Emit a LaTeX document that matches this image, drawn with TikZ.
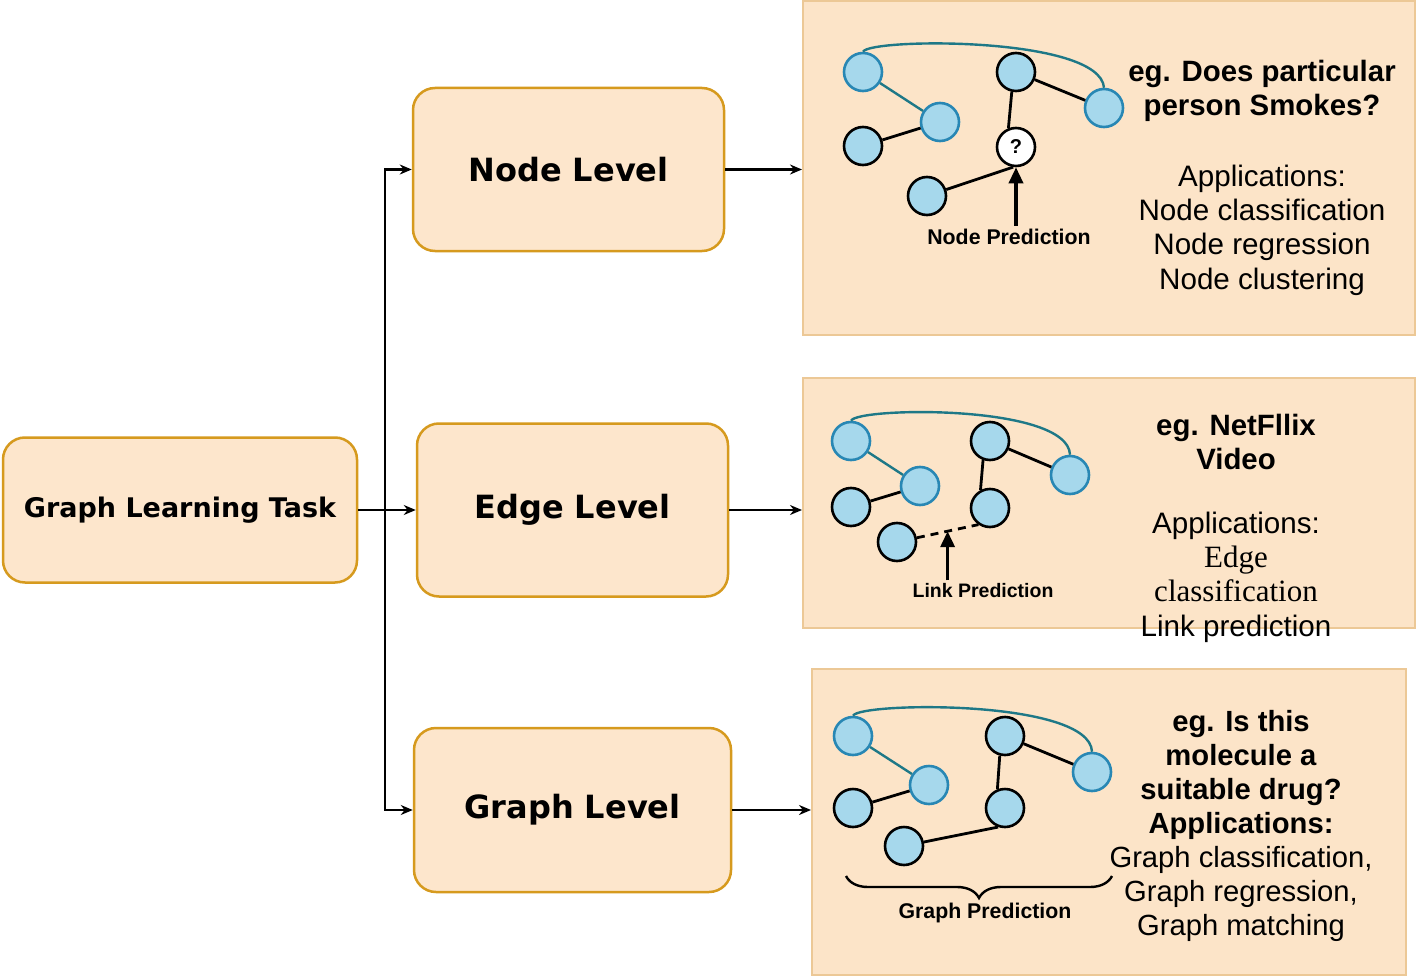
\documentclass[tikz,border=0pt]{standalone}
\usepackage{fontspec}
\setmainfont{Liberation Sans}
\newfontfamily\verd{DejaVu Sans}
\newfontfamily\timesf{Liberation Serif}
\usetikzlibrary{arrows.meta,decorations.pathreplacing,calc}
\definecolor{boxfill}{RGB}{253,230,204}
\definecolor{boxline}{RGB}{214,154,30}
\definecolor{panelfill}{RGB}{252,228,200}
\definecolor{panelline}{RGB}{236,200,150}
\definecolor{gfill}{RGB}{166,216,236}
\definecolor{gblue}{RGB}{40,135,180}
\definecolor{gteal}{RGB}{30,120,135}
\begin{document}
\begin{tikzpicture}[x=1pt,y=-1pt,
  levelbox/.style={draw=boxline, fill=boxfill, line width=2.5pt, rounded corners=22pt,
    font=\verd\bfseries\fontsize{32}{38}\selectfont},
  panel/.style={draw=panelline, fill=panelfill, line width=2pt, inner sep=0pt},
  conn/.style={line width=2.2pt, -{Stealth[length=12pt,width=10pt]}},
  gn/.style={circle, draw=black, fill=gfill, line width=2.6pt, minimum size=38pt, inner sep=0pt},
  gb/.style={gn, draw=gblue},
  tedge/.style={draw=gteal, line width=2.4pt},
  bedge/.style={draw=black, line width=2.8pt},
  predarrow/.style={line width=3.5pt, -{Triangle[length=16pt,width=14pt]}},
  predlabel/.style={font=\bfseries\fontsize{21.3}{24}\selectfont},
  boldtext/.style={align=center, font=\bfseries\fontsize{29.4}{34}\selectfont},
  regtext/.style={align=center, font=\fontsize{29.6}{34.4}\selectfont}
]
\useasboundingbox (0,0) rectangle (1416,979);
\fill[white] (0,0) rectangle (1416,979);

% panels
\node[panel, minimum width=612pt, minimum height=334pt] (p1) at (1109,168) {};
\node[panel, minimum width=612pt, minimum height=250pt] (p2) at (1109,503) {};
\node[panel, minimum width=594pt, minimum height=306pt] (p3) at (1109,822) {};

% level boxes
\node[levelbox, minimum width=354pt, minimum height=145pt,
  font=\verd\bfseries\fontsize{27}{30}\selectfont] (glt) at (180,510) {Graph Learning Task};
\node[levelbox, minimum width=311pt, minimum height=163pt] (nl) at (568.5,169.5) {Node Level};
\node[levelbox, minimum width=311pt, minimum height=173pt] (el) at (572.5,510) {Edge Level};
\node[levelbox, minimum width=317pt, minimum height=164pt] (gl) at (572.5,810) {Graph Level};

% connectors
\coordinate (j) at (385,510);
\draw[conn] (glt.east) -- (el.west);
\draw[conn] (j) |- (nl.west);
\draw[conn] (j) |- (gl.west);
\draw[conn] (nl.east) -- (nl.east -| p1.west);
\draw[conn] (el.east) -- (el.east -| p2.west);
\draw[conn] (gl.east) -- (gl.east -| p3.west);

% graph 1
\node[gb] (a1) at (863,72) {};
\node[gb] (b1) at (940,122) {};
\node[gn] (c1) at (863,146) {};
\node[gn] (d1) at (1016,72) {};
\node[gb] (e1) at (1104,108) {};
\node[gn, fill=white, font=\bfseries\fontsize{20}{22}\selectfont] (q1) at (1016,147) {?};
\node[gn] (f1) at (927,196) {};
\draw[tedge] (a1) -- (b1);
\draw[bedge] (c1) -- (b1);
\draw[bedge] (d1.258) -- (q1.112);
\draw[bedge] (d1) -- (e1);
\draw[bedge] (f1) -- (q1.262);
\draw[tedge] (a1.north) .. controls (870,38) and (1100,36) .. (e1.north);
\node[predlabel] (np) at (1009,237) {Node Prediction};
\draw[predarrow] (np.north -| q1) -- (q1.south);
\node[boldtext] (t1a) at (1262,91) {eg. Does particular\\person Smokes?};
\node[regtext] (t1b) at (1262,230) {Applications:\\Node classification\\Node regression\\Node clustering};

% graph 2
\node[gb] (a2) at (851,441) {};
\node[gb] (b2) at (920,486) {};
\node[gn] (c2) at (851,507) {};
\node[gn] (d2) at (990,441) {};
\node[gb] (e2) at (1070,475) {};
\node[gn] (g2) at (990,508) {};
\node[gn] (f2) at (897,542) {};
\draw[tedge] (a2) -- (b2);
\draw[bedge] (c2) -- (b2);
\draw[bedge] (d2.250) -- (g2.118);
\draw[bedge] (d2) -- (e2);
\draw[bedge, dash pattern=on 8pt off 6pt] (f2) -- (g2.235) coordinate[pos=0.5] (lp);
\draw[tedge] (a2.north) .. controls (858,407) and (1068,404) .. (e2.north);
\node[predlabel, font=\bfseries\fontsize{19.5}{22}\selectfont] (lpl) at (983,591) {Link Prediction};
\draw[predarrow] (lpl.north -| lp) -- (lp);
\node[boldtext] (t2a) at (1236,442) {eg. NetFllix\\Video};
\node[regtext] (t2b) at (1236,577) {Applications:\\{\timesf\fontsize{31}{34}\selectfont Edge}\\{\timesf\fontsize{31}{34}\selectfont classification}\\Link prediction};

% graph 3
\node[gb] (a3) at (853,736) {};
\node[gb] (b3) at (929,785) {};
\node[gn] (c3) at (853,808) {};
\node[gn] (d3) at (1005,736) {};
\node[gb] (e3) at (1092,772) {};
\node[gn] (g3) at (1005,808) {};
\node[gn] (f3) at (904,846) {};
\draw[tedge] (a3) -- (b3);
\draw[bedge] (c3) -- (b3);
\draw[bedge] (d3.255) -- (g3.112);
\draw[bedge] (d3) -- (e3);
\draw[bedge] (f3) -- (g3.250);
\draw[tedge] (a3.north) .. controls (860,702) and (1090,699) .. (e3.north);
\coordinate (br1) at (846,876);
\coordinate (br2) at (1112,876);
\draw[line width=2.4pt, decorate, decoration={brace, mirror, amplitude=22pt}] (br1) -- (br2);
\node[predlabel] (gpl) at (985,913) {Graph Prediction};
\node[regtext, font=\fontsize{29.2}{33.9}\selectfont] (t3) at (1241,826) {\textbf{eg. Is this}\\\textbf{molecule a}\\\textbf{suitable drug?}\\\textbf{Applications:}\\Graph classification,\\Graph regression,\\Graph matching};
\end{tikzpicture}
\end{document}
